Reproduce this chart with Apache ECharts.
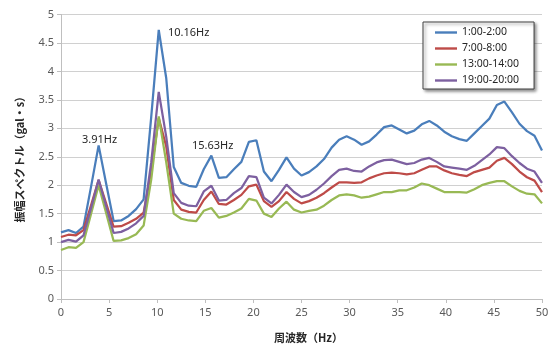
<!DOCTYPE html>
<html>
<head>
<meta charset="utf-8">
<script src="https://cdn.jsdelivr.net/npm/echarts@6/dist/echarts.min.js"></script>
<style>
html,body{margin:0;padding:0;background:#fff;}
#c{width:556px;height:348px;}
</style>
</head>
<body>
<div id="c"></div>
<script>
// frequency (Hz) of each spectral point
const freqs = [0, 0.78, 1.56, 2.34, 3.13, 3.91, 4.69, 5.47, 6.25, 7.03, 7.81, 8.59, 9.38, 10.16, 10.94, 11.72, 12.5, 13.28, 14.06, 14.84,
  15.63, 16.41, 17.19, 17.97, 18.75, 19.53, 20.31, 21.09, 21.88, 22.66, 23.44, 24.22, 25, 25.78, 26.56, 27.34, 28.13, 28.91, 29.69, 30.47,
  31.25, 32.03, 32.81, 33.59, 34.38, 35.16, 35.94, 36.72, 37.5, 38.28, 39.06, 39.84, 40.63, 41.41, 42.19, 42.97, 43.75, 44.53, 45.31, 46.09,
  46.88, 47.66, 48.44, 49.22, 50];

const seriesNames = ['1:00-2:00', '7:00-8:00', '13:00-14:00', '19:00-20:00'];

const s0100 = [1.17, 1.21, 1.16, 1.27, 1.98, 2.70, 2.03, 1.37, 1.38, 1.46, 1.58, 1.75, 3.20, 4.73, 3.88, 2.32, 2.04, 1.99, 1.97, 2.28,
  2.52, 2.13, 2.14, 2.28, 2.41, 2.76, 2.79, 2.24, 2.07, 2.27, 2.49, 2.29, 2.17, 2.23, 2.33, 2.46, 2.66, 2.80, 2.86, 2.80,
  2.71, 2.77, 2.89, 3.02, 3.05, 2.98, 2.91, 2.96, 3.07, 3.13, 3.05, 2.94, 2.86, 2.81, 2.78, 2.91, 3.04, 3.17, 3.41, 3.47,
  3.28, 3.08, 2.95, 2.87, 2.61];

const s0700 = [1.09, 1.13, 1.12, 1.21, 1.65, 2.09, 1.68, 1.27, 1.28, 1.34, 1.41, 1.52, 2.25, 3.18, 2.68, 1.74, 1.57, 1.53, 1.52, 1.74,
  1.89, 1.67, 1.66, 1.74, 1.83, 1.98, 2.01, 1.72, 1.62, 1.72, 1.88, 1.76, 1.68, 1.72, 1.78, 1.86, 1.96, 2.05, 2.05, 2.04,
  2.05, 2.12, 2.17, 2.21, 2.22, 2.21, 2.19, 2.21, 2.27, 2.33, 2.33, 2.26, 2.21, 2.18, 2.16, 2.23, 2.27, 2.31, 2.43, 2.48,
  2.37, 2.24, 2.14, 2.08, 1.88];

const s1300 = [0.86, 0.91, 0.90, 1.00, 1.50, 2.00, 1.51, 1.02, 1.03, 1.07, 1.14, 1.29, 2.10, 3.21, 2.40, 1.50, 1.41, 1.38, 1.37, 1.55,
  1.60, 1.43, 1.46, 1.52, 1.59, 1.76, 1.73, 1.50, 1.44, 1.59, 1.71, 1.57, 1.52, 1.55, 1.57, 1.64, 1.74, 1.82, 1.84, 1.82,
  1.78, 1.80, 1.84, 1.88, 1.88, 1.91, 1.91, 1.96, 2.03, 2.00, 1.94, 1.88, 1.88, 1.88, 1.87, 1.93, 2.00, 2.04, 2.07, 2.07,
  1.98, 1.90, 1.85, 1.84, 1.68];

const s1900 = [1.00, 1.04, 1.01, 1.12, 1.60, 2.10, 1.63, 1.16, 1.18, 1.24, 1.33, 1.46, 2.40, 3.64, 2.85, 1.86, 1.69, 1.64, 1.63, 1.89,
  1.99, 1.73, 1.74, 1.86, 1.95, 2.16, 2.14, 1.78, 1.68, 1.83, 2.01, 1.88, 1.79, 1.83, 1.92, 2.03, 2.16, 2.27, 2.29, 2.25,
  2.24, 2.33, 2.40, 2.44, 2.45, 2.41, 2.37, 2.39, 2.45, 2.48, 2.41, 2.33, 2.31, 2.29, 2.27, 2.34, 2.44, 2.54, 2.67, 2.65,
  2.51, 2.39, 2.29, 2.24, 2.04];

const peakLabels = ['3.91Hz', '10.16Hz', '15.63Hz'];

const colors = ['#4a7ebb', '#be4b48', '#98b954', '#7d60a0'];
const allValues = [s0100, s0700, s1300, s1900];

const chart = echarts.init(document.getElementById('c'));

const numFont = "'Noto Sans', 'Liberation Sans', sans-serif";
const jpFont = "'Noto Sans CJK JP', sans-serif";

const series = seriesNames.map((n, i) => ({
  name: n,
  type: 'line',
  symbol: 'none',
  data: freqs.map((f, j) => [f, allValues[i][j]]),
  lineStyle: { width: 2.25, color: colors[i] },
  itemStyle: { color: colors[i] }
}));

chart.setOption({
  animation: false,
  backgroundColor: '#ffffff',
  grid: { left: 61, right: 14, top: 14.5, bottom: 41, containLabel: false },
  xAxis: {
    type: 'value', min: 0, max: 50, interval: 5,
    name: '周波数（Hz）', nameLocation: 'middle', nameGap: 33,
    nameTextStyle: { fontFamily: jpFont, fontSize: 11, fontWeight: 'bold', color: '#262626', padding: [0, 0, 0, 14] },
    axisLine: { lineStyle: { color: '#bfbfbf', width: 1 } },
    axisTick: { show: true, length: 4, lineStyle: { color: '#bfbfbf' } },
    axisLabel: { margin: 8, fontFamily: numFont, fontSize: 11, color: '#595959' },
    splitLine: { show: false }
  },
  yAxis: {
    type: 'value', min: 0, max: 5, interval: 0.5,
    name: '振幅スペクトル（gal・s）', nameLocation: 'middle', nameGap: 36, nameRotate: 90,
    nameTextStyle: { fontFamily: jpFont, fontSize: 11, fontWeight: 'bold', color: '#262626' },
    axisLine: { show: true, lineStyle: { color: '#bfbfbf', width: 1 } },
    axisTick: { show: true, length: 4, lineStyle: { color: '#bfbfbf' } },
    axisLabel: { margin: 7, fontFamily: numFont, fontSize: 11, color: '#595959' },
    splitLine: { show: true, lineStyle: { color: '#d0d0d0', width: 1 } }
  },
  legend: {
    orient: 'vertical',
    left: 423, top: 22,
    data: seriesNames,
    icon: 'path://M0,0 L22,0 L22,2.4 L0,2.4 Z',
    symbolKeepAspect: true,
    itemWidth: 22, itemHeight: 12, itemGap: 5,
    padding: [5, 15, 3, 12],
    backgroundColor: '#ffffff',
    borderColor: '#404040', borderWidth: 1,
    shadowColor: 'rgba(0,0,0,0.45)', shadowBlur: 3, shadowOffsetX: 2, shadowOffsetY: 2,
    textStyle: { fontFamily: numFont, fontSize: 10.5, color: '#262626' }
  },
  graphic: [
    { type: 'text', left: 82, top: 134, style: { text: peakLabels[0], font: "11px 'Noto Sans', sans-serif", fill: '#262626' } },
    { type: 'text', left: 168, top: 27, style: { text: peakLabels[1], font: "11px 'Noto Sans', sans-serif", fill: '#262626' } },
    { type: 'text', left: 192, top: 140, style: { text: peakLabels[2], font: "11px 'Noto Sans', sans-serif", fill: '#262626' } }
  ],
  series: series
});
</script>
</body>
</html>
